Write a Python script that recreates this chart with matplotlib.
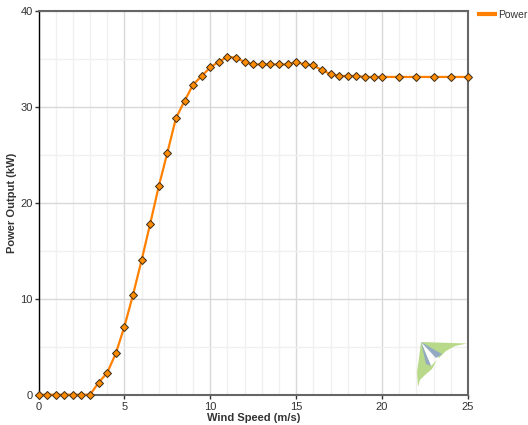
import matplotlib
matplotlib.use("Agg")
from matplotlib import pyplot as plt
from matplotlib.patches import Polygon
from matplotlib.ticker import MultipleLocator
import numpy as np

# power curve samples
wind_speed = [0, 0.5, 1, 1.5, 2, 2.5, 3, 3.5, 4, 4.5, 5, 5.5, 6, 6.5, 7, 7.5,
              8, 8.5, 9, 9.5, 10, 10.5, 11, 11.5, 12, 12.5, 13, 13.5, 14, 14.5,
              15, 15.5, 16, 16.5, 17, 17.5, 18, 18.5, 19, 19.5, 20,
              21, 22, 23, 24, 25]
power_kw = [0, 0, 0, 0, 0, 0, 0, 1.25, 2.3, 4.3, 7.1, 10.4, 14.0, 17.8, 21.7, 25.2,
            28.8, 30.6, 32.3, 33.2, 34.1, 34.7, 35.2, 35.1, 34.65, 34.4, 34.4, 34.4, 34.4, 34.4,
            34.65, 34.4, 34.3, 33.8, 33.4, 33.2, 33.2, 33.2, 33.1, 33.1, 33.1,
            33.1, 33.1, 33.1, 33.1, 33.1]

x_ticks = [0, 5, 10, 15, 20, 25]
y_ticks = [0, 10, 20, 30, 40]

plt.rcParams['font.family'] = ['Liberation Sans', 'DejaVu Sans']

W, H = 528, 425
fig = plt.figure(figsize=(W / 100, H / 100), dpi=100)
ax_l, ax_r, ax_t, ax_b = 38.5, 468, 10.7, 394.7
ax = fig.add_axes([ax_l / W, 1 - ax_b / H, (ax_r - ax_l) / W, (ax_b - ax_t) / H])

ax.plot(wind_speed, power_kw, color='#ff8000', lw=1.6, marker='D', ms=4.5,
        mfc='#ff8c00', mec='#3a2a1a', mew=0.7, zorder=3, clip_on=False)

ax.set_xlim(0, 25)
ax.set_ylim(0, 40)
ax.set_xticks(x_ticks)
ax.set_yticks(y_ticks)
ax.xaxis.set_minor_locator(MultipleLocator(1))
ax.yaxis.set_minor_locator(MultipleLocator(5))
ax.grid(which='major', color='#d8d8d8', lw=1)
ax.grid(which='minor', color='#f0f0f0', lw=1)
ax.set_axisbelow(True)

ax.tick_params(which='major', labelsize=8, colors='#333333', length=3, width=1, pad=2)
ax.tick_params(which='minor', length=0)
ax.tick_params(axis='y', pad=1)

for side in ['top', 'right', 'bottom']:
    ax.spines[side].set_color('#666666')
    ax.spines[side].set_linewidth(1.5)
ax.spines['left'].set_color('#000000')
ax.spines['left'].set_linewidth(1)

ax.set_xlabel('Wind Speed (m/s)', fontsize=8, fontweight='bold', color='#333333', labelpad=1)
ax.set_ylabel('Power Output (kW)', fontsize=8, fontweight='bold', color='#333333', labelpad=0)
ax.yaxis.set_label_coords(-0.05, 0.5)

# legend entry: a plain orange stroke
handle = plt.Line2D([], [], color='#ff8000', lw=3)
fig.legend([handle], ['Power'], loc='upper left', bbox_to_anchor=(476 / W, 1 - 7 / H),
           frameon=False, fontsize=7.5, handlelength=1.5, handletextpad=0.3,
           labelcolor='#333333', borderaxespad=0, borderpad=0.3)


# kite logo, drawn in pixel space and mapped onto the axes
def to_axes(pts):
    return [((px - ax_l) / (ax_r - ax_l), (ax_b - py) / (ax_b - ax_t)) for px, py in pts]


green = '#b9d98a'
blue = '#93aac4'
wing_top = [(421, 342), (467, 343.5), (455, 346), (446, 351), (439, 358), (433, 352)]
wing_left = [(421, 342), (426, 354), (431, 366), (437, 360), (432, 369), (425, 375),
             (420, 380), (418, 387), (417, 372), (419, 358)]
ray_a = [(421, 342), (442, 354), (436, 358)]
ray_b = [(421, 342), (431, 366), (426, 364)]
for pts, c in [(wing_top, green), (wing_left, green), (ray_a, blue), (ray_b, blue)]:
    ax.add_patch(Polygon(to_axes(pts), closed=True, transform=ax.transAxes,
                         facecolor=c, edgecolor='none', zorder=1))

fig.savefig('out.png', dpi=100)
